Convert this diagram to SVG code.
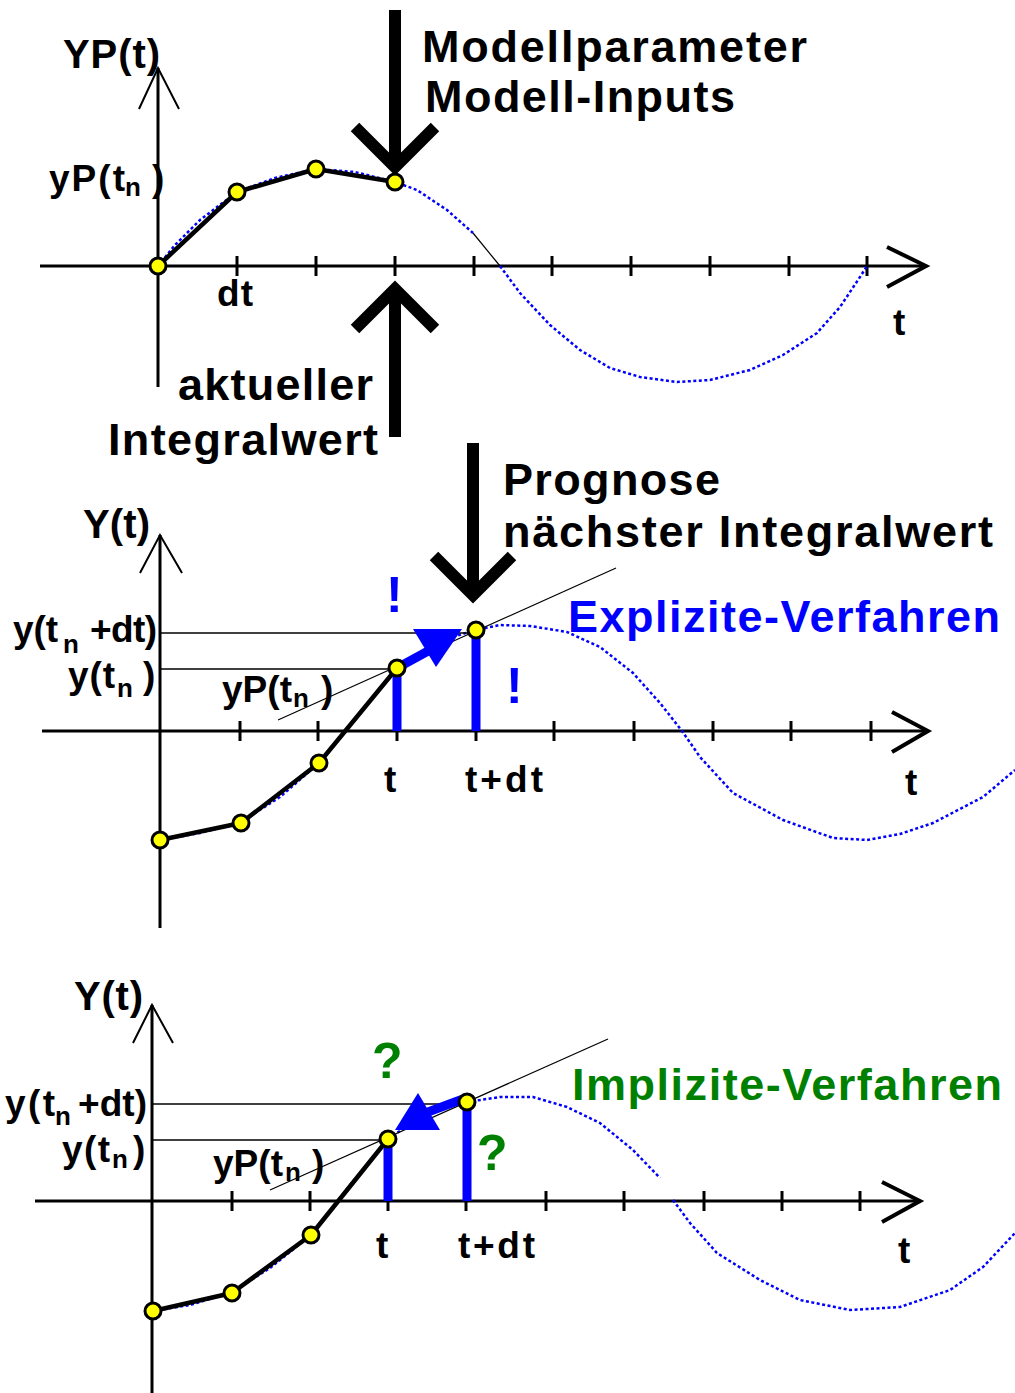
<svg xmlns="http://www.w3.org/2000/svg" width="1015" height="1393" viewBox="0 0 1015 1393">
<style>
text{font-family:"Liberation Sans",Arial,sans-serif;font-weight:bold;fill:#000}
.lbl{font-size:37px}
.sub{font-size:26px}
.big{font-size:45px}
.blue{fill:#0000ff}
.green{fill:#008000}
.axis{stroke:#000;stroke-width:3;fill:none}
.tick{stroke:#000;stroke-width:3}
.yarr{stroke:#000;stroke-width:2;fill:none}
.xarr{stroke:#000;stroke-width:4;fill:none;stroke-linejoin:miter}
.curve{stroke:#0000ff;stroke-width:2.5;fill:none;stroke-dasharray:3 2.5}
.poly{stroke:#000;stroke-width:4.5;fill:none;stroke-linejoin:round}
.pt{fill:#ffff00;stroke:#000;stroke-width:3}
.thin{stroke:#000;stroke-width:1.2;fill:none}
.hline{stroke:#000;stroke-width:1.5}
.bigarr{stroke:#000;stroke-width:12;fill:none;stroke-linejoin:miter}
.bar{stroke:#0000ff;stroke-width:9}
</style>

<g id="panel1">
  <line class="axis" x1="158" y1="68" x2="158" y2="387"/>
  <polyline class="yarr" points="139,109 158,68 179,109"/>
  <line class="axis" x1="40" y1="266" x2="926" y2="266"/>
  <polyline class="xarr" points="887,247 926,266 887,287"/>
  <g class="tick">
    <line x1="237" y1="256" x2="237" y2="276"/><line x1="316" y1="256" x2="316" y2="276"/>
    <line x1="395" y1="256" x2="395" y2="276"/><line x1="474" y1="256" x2="474" y2="276"/>
    <line x1="552" y1="256" x2="552" y2="276"/><line x1="631" y1="256" x2="631" y2="276"/>
    <line x1="710" y1="256" x2="710" y2="276"/><line x1="789" y1="256" x2="789" y2="276"/>
    <line x1="867" y1="256" x2="867" y2="276"/>
  </g>
  <polyline class="curve" points="158,266 175,245 200,220 237,192 275,178 316,169 355,172 395,182 417,190 447,210 473,233"/>
  <line class="thin" x1="473" y1="233" x2="500" y2="266"/>
  <polyline class="curve" points="500,266 520,293 550,325 580,350 610,368 640,377 677,382 710,380 750,370 783,355 817,333 840,307 860,277 867,266"/>
  <polyline class="poly" points="158,266 237,192 316,169 395,182"/>
  <circle class="pt" cx="158" cy="266" r="8"/>
  <circle class="pt" cx="237" cy="192" r="8"/>
  <circle class="pt" cx="316" cy="169" r="8"/>
  <circle class="pt" cx="395" cy="182" r="8"/>
  <line class="bigarr" x1="395" y1="10" x2="395" y2="166"/>
  <polyline class="bigarr" points="355,127 395,167 435,127"/>
  <line class="bigarr" x1="395" y1="437" x2="395" y2="290"/>
  <polyline class="bigarr" points="355,329 395,289 435,329"/>
  <text class="lbl" x="63" y="68" textLength="97" style="font-size:40px">YP(t)</text>
  <text class="lbl" x="49" y="191" textLength="76">yP(t</text>
  <text class="sub" x="125" y="196">n</text>
  <text class="lbl" x="152" y="191">)</text>
  <text class="lbl" x="217" y="306" textLength="36">dt</text>
  <text class="lbl" x="893" y="335">t</text>
  <text class="big" x="422" y="62" textLength="385">Modellparameter</text>
  <text class="big" x="425" y="112" textLength="310">Modell-Inputs</text>
  <text class="big" x="178" y="400" textLength="195">aktueller</text>
  <text class="big" x="108" y="455" textLength="270">Integralwert</text>
</g>

<g id="panel2">
  <line class="axis" x1="160" y1="535" x2="160" y2="928"/>
  <polyline class="yarr" points="140,573 160,535 182,573"/>
  <line class="axis" x1="42" y1="731" x2="928" y2="731"/>
  <polyline class="xarr" points="892,712 928,731 892,752"/>
  <g class="tick">
    <line x1="240" y1="721" x2="240" y2="741"/><line x1="318" y1="721" x2="318" y2="741"/>
    <line x1="397" y1="721" x2="397" y2="741"/><line x1="476" y1="721" x2="476" y2="741"/>
    <line x1="554" y1="721" x2="554" y2="741"/><line x1="634" y1="721" x2="634" y2="741"/>
    <line x1="713" y1="721" x2="713" y2="741"/><line x1="791" y1="721" x2="791" y2="741"/>
    <line x1="871" y1="721" x2="871" y2="741"/>
  </g>
  <polyline class="curve" points="160,840 200,833 241,822 280,797 319,763 358,715 397,668 436,642 476,630 500,625 530,626 567,632 600,647 633,673 660,703 682,731 700,757 733,793 783,820 833,838 867,840 900,834 933,823 983,797 1015,770"/>
  <line class="hline" x1="160" y1="633" x2="476" y2="633"/>
  <line class="hline" x1="160" y1="669" x2="397" y2="669"/>
  <line class="thin" x1="278" y1="720" x2="616" y2="568"/>
  <polyline class="poly" points="160,840 241,823 319,763 397,668"/>
  <line class="bar" x1="397" y1="668" x2="397" y2="731"/>
  <line class="bar" x1="476" y1="630" x2="476" y2="731"/>
  <line class="bar" x1="397" y1="668" x2="430" y2="650"/>
  <polygon fill="#0000ff" points="413,629 462,629 436,667"/>
  <circle class="pt" cx="160" cy="840" r="8"/>
  <circle class="pt" cx="241" cy="823" r="8"/>
  <circle class="pt" cx="319" cy="763" r="8"/>
  <circle class="pt" cx="397" cy="668" r="8"/>
  <circle class="pt" cx="476" cy="630" r="8"/>
  <line class="bigarr" x1="473" y1="443" x2="473" y2="594"/>
  <polyline class="bigarr" points="434,556 473,595 512,556"/>
  <text class="lbl" x="83" y="538" textLength="67" style="font-size:40px">Y(t)</text>
  <text class="lbl" x="13" y="642" textLength="45">y(t</text>
  <text class="sub" x="63" y="653">n</text>
  <text class="lbl" x="90" y="642" textLength="67">+dt)</text>
  <text class="lbl" x="68" y="688" textLength="47">y(t</text>
  <text class="sub" x="117" y="697">n</text>
  <text class="lbl" x="143" y="688">)</text>
  <text class="lbl" x="222" y="702" textLength="70">yP(t</text>
  <text class="sub" x="293" y="707">n</text>
  <text class="lbl" x="321" y="702">)</text>
  <text class="lbl" x="384" y="792">t</text>
  <text class="lbl" x="465" y="792" textLength="78">t+dt</text>
  <text class="lbl" x="905" y="795">t</text>
  <text class="big" x="503" y="495" textLength="217">Prognose</text>
  <text class="big" x="503" y="547" textLength="490">nächster Integralwert</text>
  <text class="big blue" x="568" y="632" textLength="432">Explizite-Verfahren</text>
  <text class="blue" x="386" y="612" style="font-size:50px">!</text>
  <text class="blue" x="506" y="703" style="font-size:50px">!</text>
</g>

<g id="panel3">
  <line class="axis" x1="152" y1="1005" x2="152" y2="1393"/>
  <polyline class="yarr" points="133,1043 152,1005 173,1043"/>
  <line class="axis" x1="35" y1="1201" x2="920" y2="1201"/>
  <polyline class="xarr" points="882,1182 920,1201 882,1222"/>
  <g class="tick">
    <line x1="232" y1="1191" x2="232" y2="1211"/><line x1="310" y1="1191" x2="310" y2="1211"/>
    <line x1="388" y1="1191" x2="388" y2="1211"/><line x1="466" y1="1191" x2="466" y2="1211"/>
    <line x1="546" y1="1191" x2="546" y2="1211"/><line x1="624" y1="1191" x2="624" y2="1211"/>
    <line x1="704" y1="1191" x2="704" y2="1211"/><line x1="782" y1="1191" x2="782" y2="1211"/>
    <line x1="860" y1="1191" x2="860" y2="1211"/>
  </g>
  <polyline class="curve" points="153,1311 190,1305 232,1292 270,1268 311,1235 350,1185 388,1139 428,1112 467,1102 500,1097 533,1097 567,1107 600,1123 633,1150 660,1178"/>
  <polyline class="curve" points="673,1200 690,1223 717,1253 760,1280 800,1300 850,1310 900,1307 950,1290 983,1267 1015,1233"/>
  <line class="hline" x1="152" y1="1104" x2="467" y2="1104"/>
  <line class="hline" x1="152" y1="1140" x2="388" y2="1140"/>
  <line class="thin" x1="270" y1="1190" x2="608" y2="1039"/>
  <polyline class="poly" points="153,1311 232,1293 311,1235 388,1139"/>
  <line class="bar" x1="388" y1="1139" x2="388" y2="1201"/>
  <line class="bar" x1="467" y1="1102" x2="467" y2="1201"/>
  <line class="bar" x1="463" y1="1099" x2="428" y2="1112"/>
  <polygon fill="#0000ff" points="418,1093 395,1130 440,1130"/>
  <circle class="pt" cx="153" cy="1311" r="8"/>
  <circle class="pt" cx="232" cy="1293" r="8"/>
  <circle class="pt" cx="311" cy="1235" r="8"/>
  <circle class="pt" cx="388" cy="1139" r="8"/>
  <circle class="pt" cx="467" cy="1102" r="8"/>
  <text class="lbl" x="74" y="1010" textLength="69" style="font-size:40px">Y(t)</text>
  <text class="lbl" x="5" y="1116" textLength="50">y(t</text>
  <text class="sub" x="55" y="1125">n</text>
  <text class="lbl" x="78" y="1116" textLength="69">+dt)</text>
  <text class="lbl" x="62" y="1162" textLength="48">y(t</text>
  <text class="sub" x="112" y="1168">n</text>
  <text class="lbl" x="133" y="1162">)</text>
  <text class="lbl" x="213" y="1176" textLength="70">yP(t</text>
  <text class="sub" x="285" y="1181">n</text>
  <text class="lbl" x="312" y="1176">)</text>
  <text class="lbl" x="376" y="1258">t</text>
  <text class="lbl" x="458" y="1258" textLength="77">t+dt</text>
  <text class="lbl" x="898" y="1263">t</text>
  <text class="big green" x="572" y="1100" textLength="430">Implizite-Verfahren</text>
  <text class="green" x="372" y="1078" style="font-size:50px">?</text>
  <text class="green" x="477" y="1170" style="font-size:50px">?</text>
</g>
</svg>
